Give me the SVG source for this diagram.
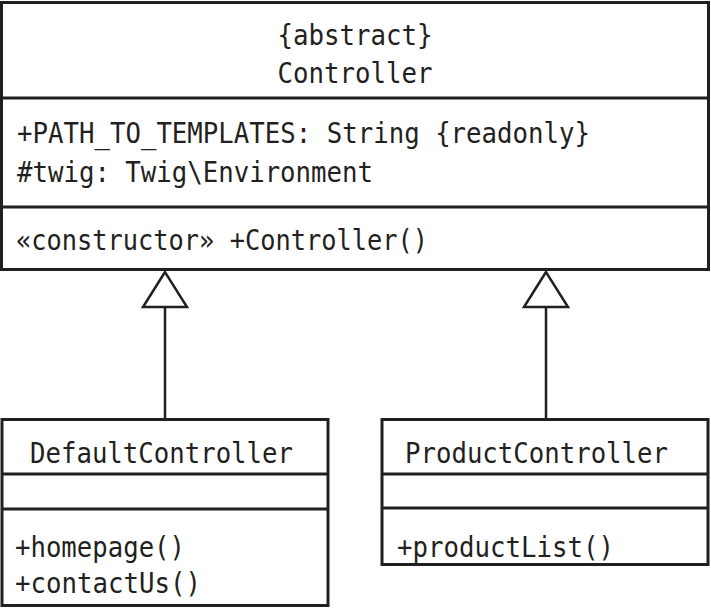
<svg xmlns="http://www.w3.org/2000/svg" width="711" height="610" viewBox="0 0 711 610">
<style>
.box{fill:#fff;stroke:#231f20;stroke-width:3}
.div{stroke:#231f20;stroke-width:3}
.t{font-family:"DejaVu Sans Mono","Liberation Mono",monospace;font-size:29px;fill:#231f20}
.edge{stroke:#231f20;stroke-width:2.5;fill:none}
.tri{fill:#fff;stroke:#231f20;stroke-width:2.5;stroke-linejoin:miter}
</style>
<g id="connectors">
<line class="edge" x1="165" y1="307" x2="165" y2="419"/>
<polygon class="tri" points="165,272 143,307 187,307"/>
<line class="edge" x1="546" y1="307" x2="546" y2="419"/>
<polygon class="tri" points="546,272 524,307 568,307"/>
</g>
<g id="Controller">
<rect class="box" x="1.5" y="2.5" width="707" height="267"/>
<line class="div" x1="1.5" y1="98" x2="708.5" y2="98"/>
<line class="div" x1="1.5" y1="207" x2="708.5" y2="207"/>
<text class="t" x="355" y="45" text-anchor="middle" textLength="155" lengthAdjust="spacingAndGlyphs">{abstract}</text>
<text class="t" x="355" y="83" text-anchor="middle" textLength="155" lengthAdjust="spacingAndGlyphs">Controller</text>
<text class="t" x="17" y="143" textLength="573" lengthAdjust="spacingAndGlyphs">+PATH_TO_TEMPLATES: String {readonly}</text>
<text class="t" x="17" y="182" textLength="356" lengthAdjust="spacingAndGlyphs">#twig: Twig\Environment</text>
<text class="t" x="16" y="250" textLength="412" lengthAdjust="spacingAndGlyphs">«constructor» +Controller()</text>
</g>
<g id="DefaultController">
<rect class="box" x="2" y="419.5" width="326" height="186"/>
<line class="div" x1="2" y1="474" x2="328" y2="474"/>
<line class="div" x1="2" y1="509" x2="328" y2="509"/>
<text class="t" x="30" y="463" textLength="263" lengthAdjust="spacingAndGlyphs">DefaultController</text>
<text class="t" x="15" y="557" textLength="170" lengthAdjust="spacingAndGlyphs">+homepage()</text>
<text class="t" x="15" y="593" textLength="186" lengthAdjust="spacingAndGlyphs">+contactUs()</text>
</g>
<g id="ProductController">
<rect class="box" x="382" y="419.5" width="326" height="145"/>
<line class="div" x1="382" y1="474" x2="708" y2="474"/>
<line class="div" x1="382" y1="508" x2="708" y2="508"/>
<text class="t" x="405" y="463" textLength="263" lengthAdjust="spacingAndGlyphs">ProductController</text>
<text class="t" x="397" y="557" textLength="217" lengthAdjust="spacingAndGlyphs">+productList()</text>
</g>
</svg>
